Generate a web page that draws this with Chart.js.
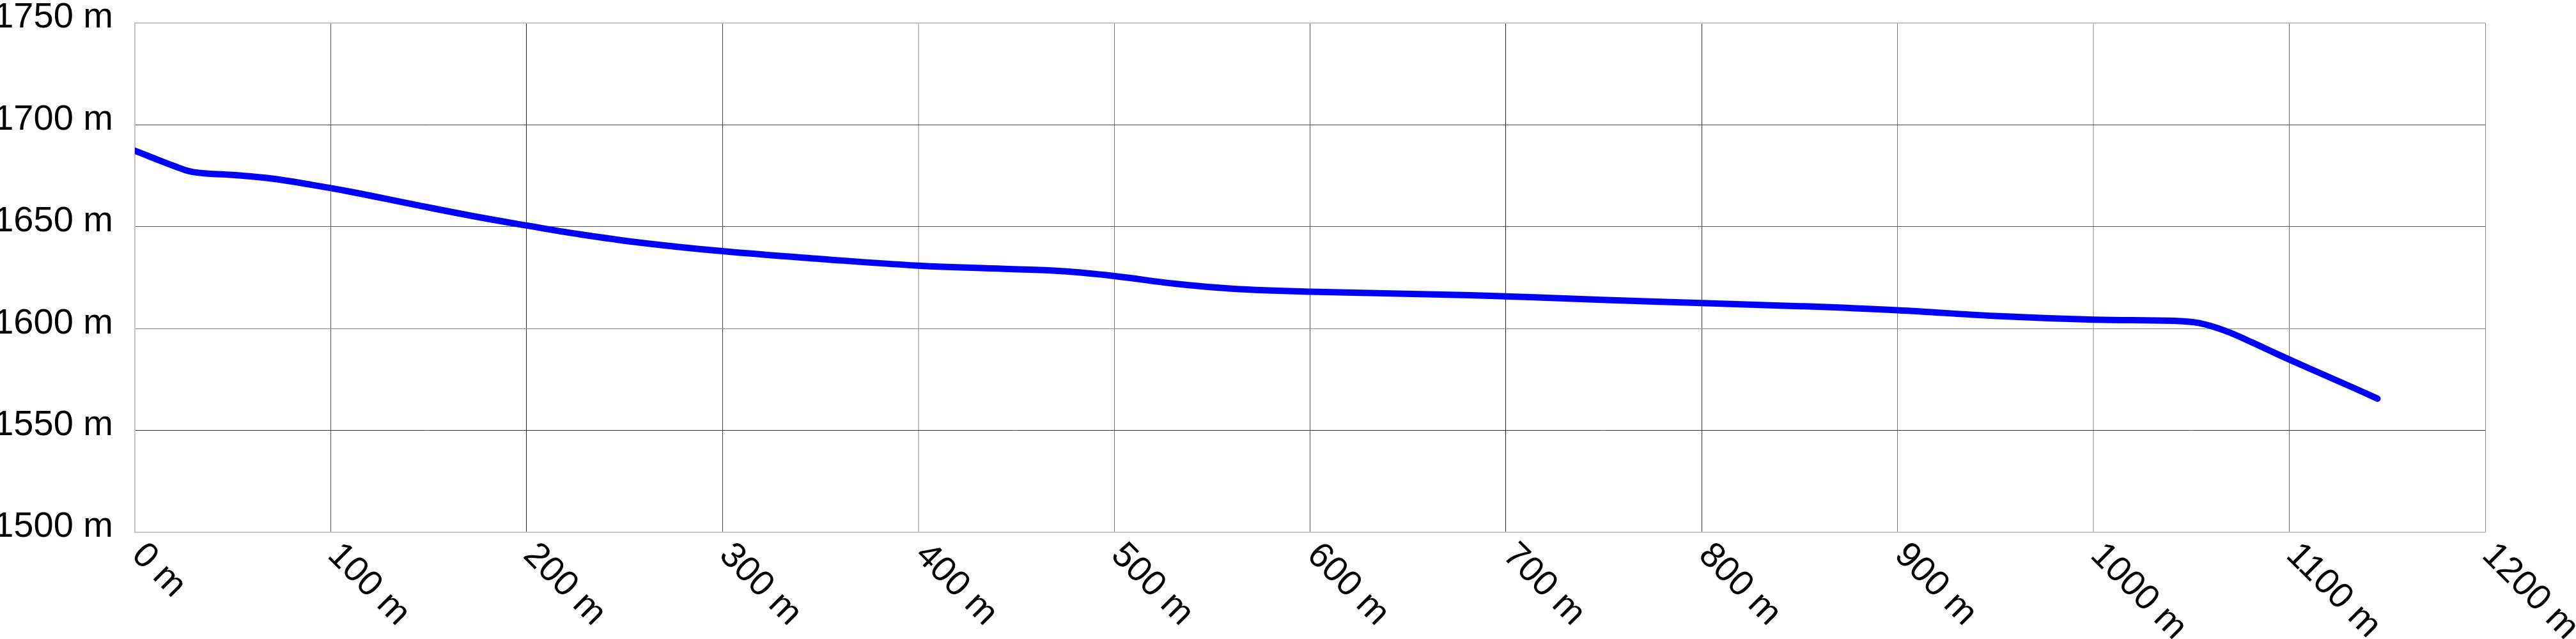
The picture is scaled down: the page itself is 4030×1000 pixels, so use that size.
<!DOCTYPE html>
<html>
<head>
<meta charset="utf-8">
<script src="https://cdn.jsdelivr.net/npm/chart.js@4/dist/chart.umd.min.js"></script>
<style>
    html, body { margin: 0; padding: 0; background: #ffffff; }
    #wrap { width: 4030px; height: 1000px; position: relative; }
</style>
</head>
<body>
<div id="wrap"><canvas id="profileChart"></canvas></div>
<script>
// distance along the route (m) and elevation (m)
const distances = [0, 10, 20, 30, 50, 70, 90, 110, 143, 175, 200, 225, 258, 300, 350, 400, 444, 473, 500, 531,
    560, 600, 682, 747, 800, 850, 900, 950, 1000, 1041, 1054, 1067, 1081, 1094, 1107, 1120, 1133, 1145];
const elevations = [1687.3, 1683.5, 1679.8, 1676.8, 1675.4, 1673.6, 1670.6, 1667.2, 1660.8, 1654.8, 1650.6, 1646.6,
    1642.2, 1638, 1634.2, 1630.9, 1629.3, 1628.2, 1625.8, 1622, 1619.6, 1618.1, 1616.4, 1614.2, 1612.5, 1611, 1609,
    1606.2, 1604.4, 1603.8, 1602.7, 1599, 1593.2, 1587.4, 1581.8, 1576.3, 1570.8, 1565.6];

const xTicks = [0, 100, 200, 300, 400, 500, 600, 700, 800, 900, 1000, 1100, 1200];
const yTicks = [1500, 1550, 1600, 1650, 1700, 1750];

// grid lines in the picture come out in different greys
const xGridColors = ['#c4c4c4', '#555555', '#222222', '#444444', '#c4c4c4', '#777777', '#555555',
    '#222222', '#333333', '#777777', '#c4c4c4', '#666666', '#888888'];
const yGridColors = ['#c4c4c4', '#333333', '#888888', '#555555', '#444444', '#c4c4c4'];

const labelFont = '56px "Liberation Sans", Arial, sans-serif';

const points = distances.map((d, i) => ({ x: d, y: elevations[i] }));

// x labels run down to the right from each tick, which chart.js can't do itself
const slantedLabels = {
    id: 'slantedLabels',
    afterDraw(chart) {
        const ctx = chart.ctx;
        const xs = chart.scales.x;
        const bottom = chart.chartArea.bottom;
        ctx.save();
        ctx.font = labelFont;
        ctx.fillStyle = '#000000';
        ctx.textAlign = 'left';
        ctx.textBaseline = 'alphabetic';
        xTicks.forEach(v => {
            const px = xs.getPixelForValue(v);
            ctx.save();
            ctx.translate(px - 7, bottom + 38);
            ctx.rotate(Math.PI / 4);
            ctx.fillText(v + ' m', 0, 0);
            ctx.restore();
        });
        ctx.restore();
    }
};

const ctx = document.getElementById('profileChart').getContext('2d');
new Chart(ctx, {
    type: 'line',
    data: {
        datasets: [{
            data: points,
            borderColor: '#0000ff',
            borderWidth: 10,
            borderCapStyle: 'round',
            borderJoinStyle: 'round',
            pointRadius: 0,
            fill: false,
            tension: 0.4
        }]
    },
    options: {
        responsive: true,
        maintainAspectRatio: false,
        animation: false,
        devicePixelRatio: 1,
        layout: {
            padding: { top: 36, right: 142, bottom: 167, left: 0 }
        },
        plugins: {
            legend: { display: false },
            tooltip: { enabled: false }
        },
        scales: {
            x: {
                type: 'linear',
                min: 0,
                max: 1200,
                afterBuildTicks: axis => { axis.ticks = xTicks.map(v => ({ value: v })); },
                ticks: { display: false },
                grid: {
                    drawTicks: false,
                    color: c => xGridColors[c.index] || '#888888',
                    lineWidth: c => (xGridColors[c.index] === '#c4c4c4' ? 2 : 1)
                },
                border: { color: '#c4c4c4', width: 2 }
            },
            y: {
                type: 'linear',
                min: 1500,
                max: 1750,
                afterBuildTicks: axis => { axis.ticks = yTicks.map(v => ({ value: v })); },
                afterFit: axis => {
                    axis.width = 211;
                    axis.paddingTop = 0;
                    axis.paddingBottom = 0;
                },
                ticks: {
                    color: '#000000',
                    font: { family: '"Liberation Sans", Arial, sans-serif', size: 56 },
                    padding: 34,
                    labelOffset: -8,
                    callback: v => v + ' m'
                },
                grid: {
                    drawTicks: false,
                    color: c => yGridColors[c.index] || '#888888',
                    lineWidth: c => (yGridColors[c.index] === '#c4c4c4' ? 2 : 1)
                },
                border: { color: '#c4c4c4', width: 2 }
            }
        }
    },
    plugins: [slantedLabels]
});
</script>
</body>
</html>
